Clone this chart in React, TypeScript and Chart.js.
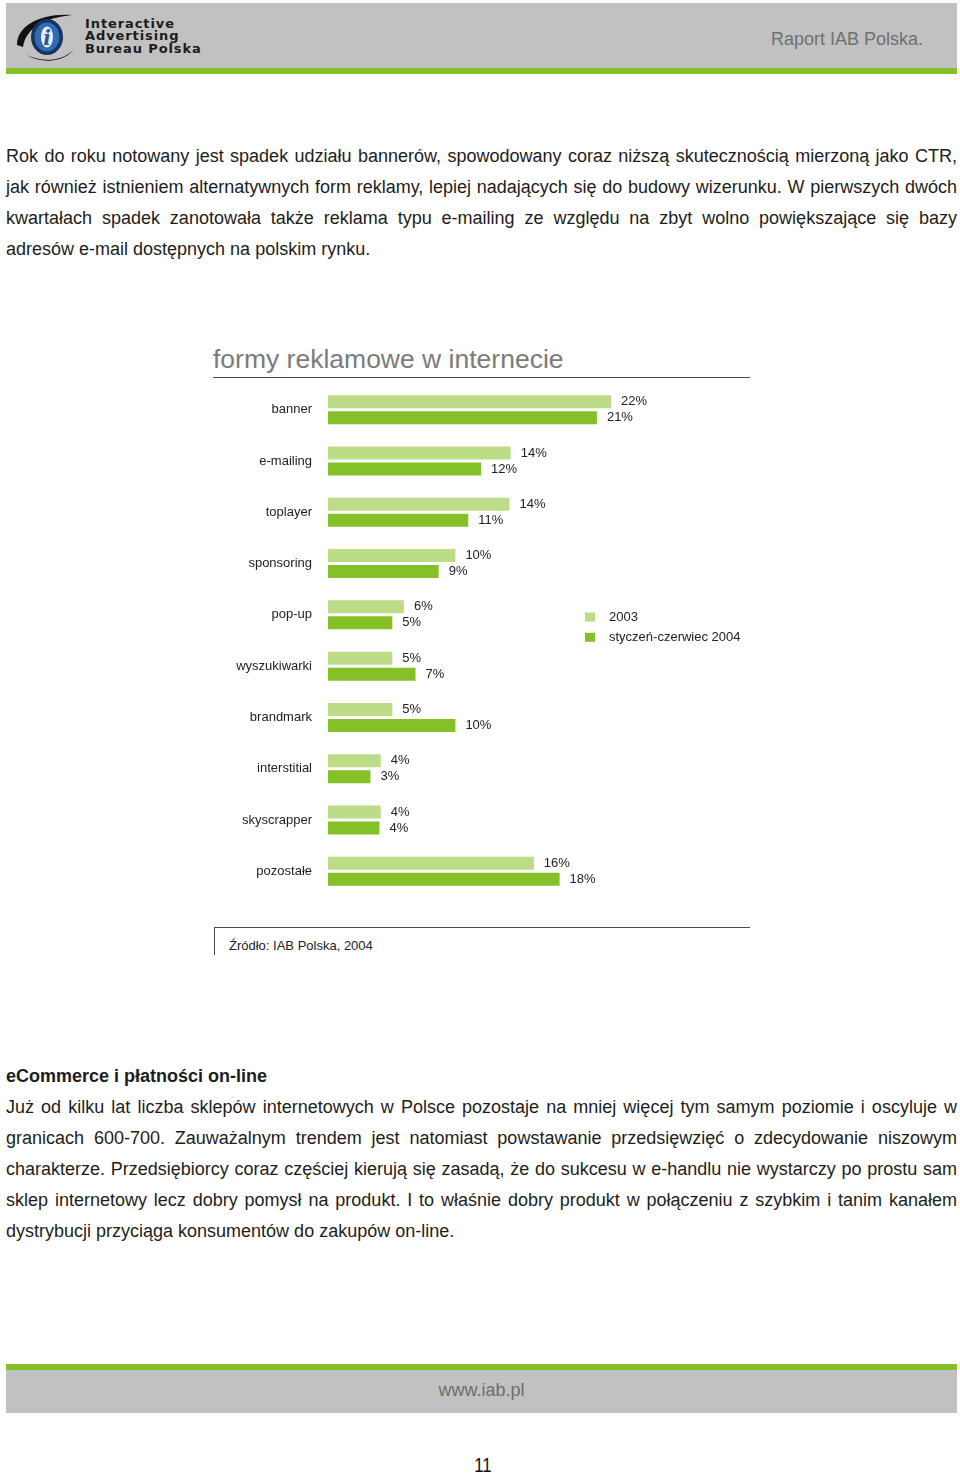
import React, { useEffect, useRef } from "react";
import { Chart, registerables } from "chart.js";

Chart.register(...registerables);

// ---------- data ----------
const categories = [
  "banner",
  "e-mailing",
  "toplayer",
  "sponsoring",
  "pop-up",
  "wyszukiwarki",
  "brandmark",
  "interstitial",
  "skyscrapper",
  "pozostałe",
];
const series2003 = [22, 14.2, 14.1, 9.9, 5.9, 5.0, 5.0, 4.1, 4.1, 16.0];
const series2004 = [20.9, 11.9, 10.9, 8.6, 5.0, 6.8, 9.9, 3.3, 4.0, 18.0];
const labels2003 = ["22%", "14%", "14%", "10%", "6%", "5%", "5%", "4%", "4%", "16%"];
const labels2004 = ["21%", "12%", "11%", "9%", "5%", "7%", "10%", "3%", "4%", "18%"];
const seriesNames = ["2003", "styczeń-czerwiec 2004"];
const xRange = [0, 30];

const FONT = "'Liberation Sans', Arial, Helvetica, sans-serif";
const LIGHT = "#bcdc88";
const DARK = "#84c129";
const TEXT = "#1d1d1b";

const para1 = [
  "Rok do roku notowany jest spadek udziału bannerów, spowodowany coraz niższą skutecznością mierzoną jako CTR,",
  "jak również istnieniem alternatywnych form reklamy, lepiej nadających się do budowy wizerunku. W pierwszych dwóch",
  "kwartałach spadek zanotowała także reklama typu e-mailing ze względu na zbyt wolno powiększające się bazy",
  "adresów e-mail dostępnych na polskim rynku.",
];
const para2Title = "eCommerce i płatności on-line";
const para2 = [
  "Już od kilku lat liczba sklepów internetowych w Polsce pozostaje na mniej więcej tym samym poziomie i oscyluje w",
  "granicach 600-700. Zauważalnym trendem jest natomiast powstawanie przedsięwzięć o zdecydowanie niszowym",
  "charakterze. Przedsiębiorcy coraz częściej kierują się zasadą, że do sukcesu w e-handlu nie wystarczy po prostu sam",
  "sklep internetowy lecz dobry pomysł na produkt. I to właśnie dobry produkt w połączeniu z szybkim i tanim kanałem",
  "dystrybucji przyciąga konsumentów do zakupów on-line.",
];

// canvas geometry
const CANVAS_LEFT = 200;
const CANVAS_TOP = 354;
const PAD_TB = 30;

// ---------- plugins ----------
const valueLabelPlugin = {
  id: "valueLabels",
  afterDatasetsDraw(chart: any) {
    const ctx = chart.ctx;
    const lbls = [labels2003, labels2004];
    ctx.save();
    ctx.font = `13px ${FONT}`;
    ctx.fillStyle = "#222";
    ctx.textAlign = "left";
    ctx.textBaseline = "middle";
    chart.data.datasets.forEach((_ds: any, i: number) => {
      chart.getDatasetMeta(i).data.forEach((bar: any, j: number) => {
        ctx.fillText(lbls[i][j], bar.x + 10, bar.y);
      });
    });
    ctx.restore();
  },
};

const legendPlugin = {
  id: "boxLegend",
  afterDraw(chart: any) {
    const ctx = chart.ctx;
    ctx.save();
    ctx.font = `13px ${FONT}`;
    ctx.textBaseline = "middle";
    ctx.textAlign = "left";
    chart.data.datasets.forEach((ds: any, i: number) => {
      const y = 617 - CANVAS_TOP + i * 20.3;
      ctx.fillStyle = ds.backgroundColor;
      ctx.fillRect(585 - CANVAS_LEFT, y - 4.5, 10, 9);
      ctx.fillStyle = "#222";
      ctx.fillText(ds.label, 609 - CANVAS_LEFT, y);
    });
    ctx.restore();
  },
};

function BarChart() {
  const ref = useRef<HTMLCanvasElement>(null);
  useEffect(() => {
    if (!ref.current) return;
    const chart = new Chart(ref.current, {
      type: "bar",
      data: {
        labels: categories,
        datasets: [
          {
            label: seriesNames[0],
            data: series2003,
            backgroundColor: LIGHT,
            categoryPercentage: 0.624,
            barPercentage: 0.8125,
          },
          {
            label: seriesNames[1],
            data: series2004,
            backgroundColor: DARK,
            categoryPercentage: 0.624,
            barPercentage: 0.8125,
          },
        ],
      },
      options: {
        indexAxis: "y",
        responsive: false,
        animation: false,
        devicePixelRatio: 1,
        layout: { padding: { top: PAD_TB, bottom: PAD_TB, left: 0, right: 46 } },
        plugins: {
          legend: { display: false },
          tooltip: { enabled: false },
          title: { display: false },
        },
        scales: {
          x: { display: false, min: xRange[0], max: xRange[1] },
          y: {
            grid: { display: false, drawTicks: false },
            border: { display: false },
            ticks: {
              padding: 16,
              color: "#222",
              font: { size: 13, family: FONT },
            },
            afterFit(scale: any) {
              scale.width = 128;
            },
          },
        },
      } as any,
      plugins: [valueLabelPlugin, legendPlugin],
    });
    return () => chart.destroy();
  }, []);
  return (
    <canvas
      ref={ref}
      width={560}
      height={573}
      style={{ position: "absolute", left: CANVAS_LEFT, top: CANVAS_TOP, width: 560, height: 573 }}
    />
  );
}

// text placed by baseline (Liberation Sans metrics)
function T(props: {
  x?: number;
  base: number;
  size: number;
  children: any;
  color?: string;
  bold?: boolean;
  style?: any;
}) {
  const { x = 0, base, size, children, color = TEXT, bold, style } = props;
  return (
    <div
      style={{
        position: "absolute",
        left: x,
        top: base - 0.8465 * size,
        fontSize: size,
        lineHeight: `${size}px`,
        fontFamily: FONT,
        fontWeight: bold ? 700 : 400,
        color,
        whiteSpace: "nowrap",
        ...style,
      }}
    >
      {children}
    </div>
  );
}

function Para(props: { lines: string[]; firstBase: number }) {
  const { lines, firstBase } = props;
  return (
    <>
      {lines.map((ln, i) => {
        const justify = i < lines.length - 1;
        return (
          <div
            key={i}
            style={{
              position: "absolute",
              left: 6,
              width: 951,
              top: firstBase + i * 31 - 21.75,
              fontSize: 18,
              lineHeight: "31px",
              fontFamily: FONT,
              color: TEXT,
              textAlign: justify ? "justify" : "left",
              textAlignLast: justify ? "justify" : "left",
              wordSpacing: justify ? "-2px" : undefined,
            } as any}
          >
            {ln}
          </div>
        );
      })}
    </>
  );
}

function Logo() {
  return (
    <svg
      style={{ position: "absolute", left: 14, top: 12 }}
      width={68}
      height={52}
      viewBox="0 0 68 52"
    >
      <path d="M3 33 C 3 14, 26 1, 58 3 C 30 6, 12 16, 9 35 Z" fill="#111" />
      <path d="M12 43 C 30 51, 50 49, 60 37 C 52 49, 30 53, 12 43 Z" fill="#111" />
      <ellipse cx={33} cy={25} rx={16} ry={18} fill="#17345f" />
      <ellipse cx={33} cy={25} rx={12.5} ry={14.5} fill="#2e6db5" />
      <ellipse cx={33} cy={25} rx={6} ry={10.5} fill="#e9eef5" />
      <text
        x={33}
        y={33}
        textAnchor="middle"
        fontFamily="'DejaVu Serif', serif"
        fontStyle="italic"
        fontWeight="bold"
        fontSize={20}
        fill="#1f58a3"
      >
        i
      </text>
    </svg>
  );
}

export default function App() {
  const logoFont = {
    fontFamily: "'DejaVu Sans', Verdana, sans-serif",
    letterSpacing: "0.9px",
  };
  return (
    <div
      style={{
        position: "absolute",
        left: 0,
        top: 0,
        width: 960,
        height: 1474,
        background: "#fff",
        overflow: "hidden",
      }}
    >
      {/* header */}
      <div style={{ position: "absolute", left: 6, top: 3, width: 951, height: 65, background: "#c1c1c1" }} />
      <div style={{ position: "absolute", left: 6, top: 68, width: 951, height: 6, background: DARK }} />
      <Logo />
      <T x={85} base={28} size={13} bold color="#1c1c1c" style={logoFont}>Interactive</T>
      <T x={85} base={40.3} size={13} bold color="#1c1c1c" style={logoFont}>Advertising</T>
      <T x={85} base={52.6} size={13} bold color="#1c1c1c" style={logoFont}>Bureau Polska</T>
      <T x={771} base={45} size={18} color="#707070">Raport IAB Polska.</T>

      {/* paragraph 1 */}
      <Para lines={para1} firstBase={163} />

      {/* chart block */}
      <T x={213} base={368.5} size={26.5} color="#7b7b7b">formy reklamowe w internecie</T>
      <div style={{ position: "absolute", left: 213, top: 376.5, width: 537, height: 1.5, background: "#4a4a4a" }} />
      <BarChart />
      <div style={{ position: "absolute", left: 213.5, top: 926.5, width: 536.5, height: 1.3, background: "#4a4a4a" }} />
      <div style={{ position: "absolute", left: 213.5, top: 926.5, width: 1.3, height: 28, background: "#4a4a4a" }} />
      <T x={229} base={950.5} size={13} color="#222">Źródło: IAB Polska, 2004</T>

      {/* paragraph 2 */}
      <T x={6} base={1082.7} size={18} bold>{para2Title}</T>
      <Para lines={para2} firstBase={1113.7} />

      {/* footer */}
      <div style={{ position: "absolute", left: 6, top: 1364, width: 951, height: 6, background: DARK }} />
      <div style={{ position: "absolute", left: 6, top: 1370, width: 951, height: 43, background: "#c1c1c1" }} />
      <div
        style={{
          position: "absolute",
          left: 6,
          width: 951,
          top: 1396.5 - 0.8465 * 18,
          fontSize: 18,
          lineHeight: "18px",
          fontFamily: FONT,
          color: "#6e6e6e",
          textAlign: "center",
        }}
      >
        www.iab.pl
      </div>
      <div
        style={{
          position: "absolute",
          left: 433,
          width: 100,
          top: 1471.5 - 0.8465 * 21,
          fontSize: 21,
          lineHeight: "21px",
          fontFamily: FONT,
          color: "#111",
          textAlign: "center",
          transform: "scaleX(0.8)",
        }}
      >
        11
      </div>
    </div>
  );
}
